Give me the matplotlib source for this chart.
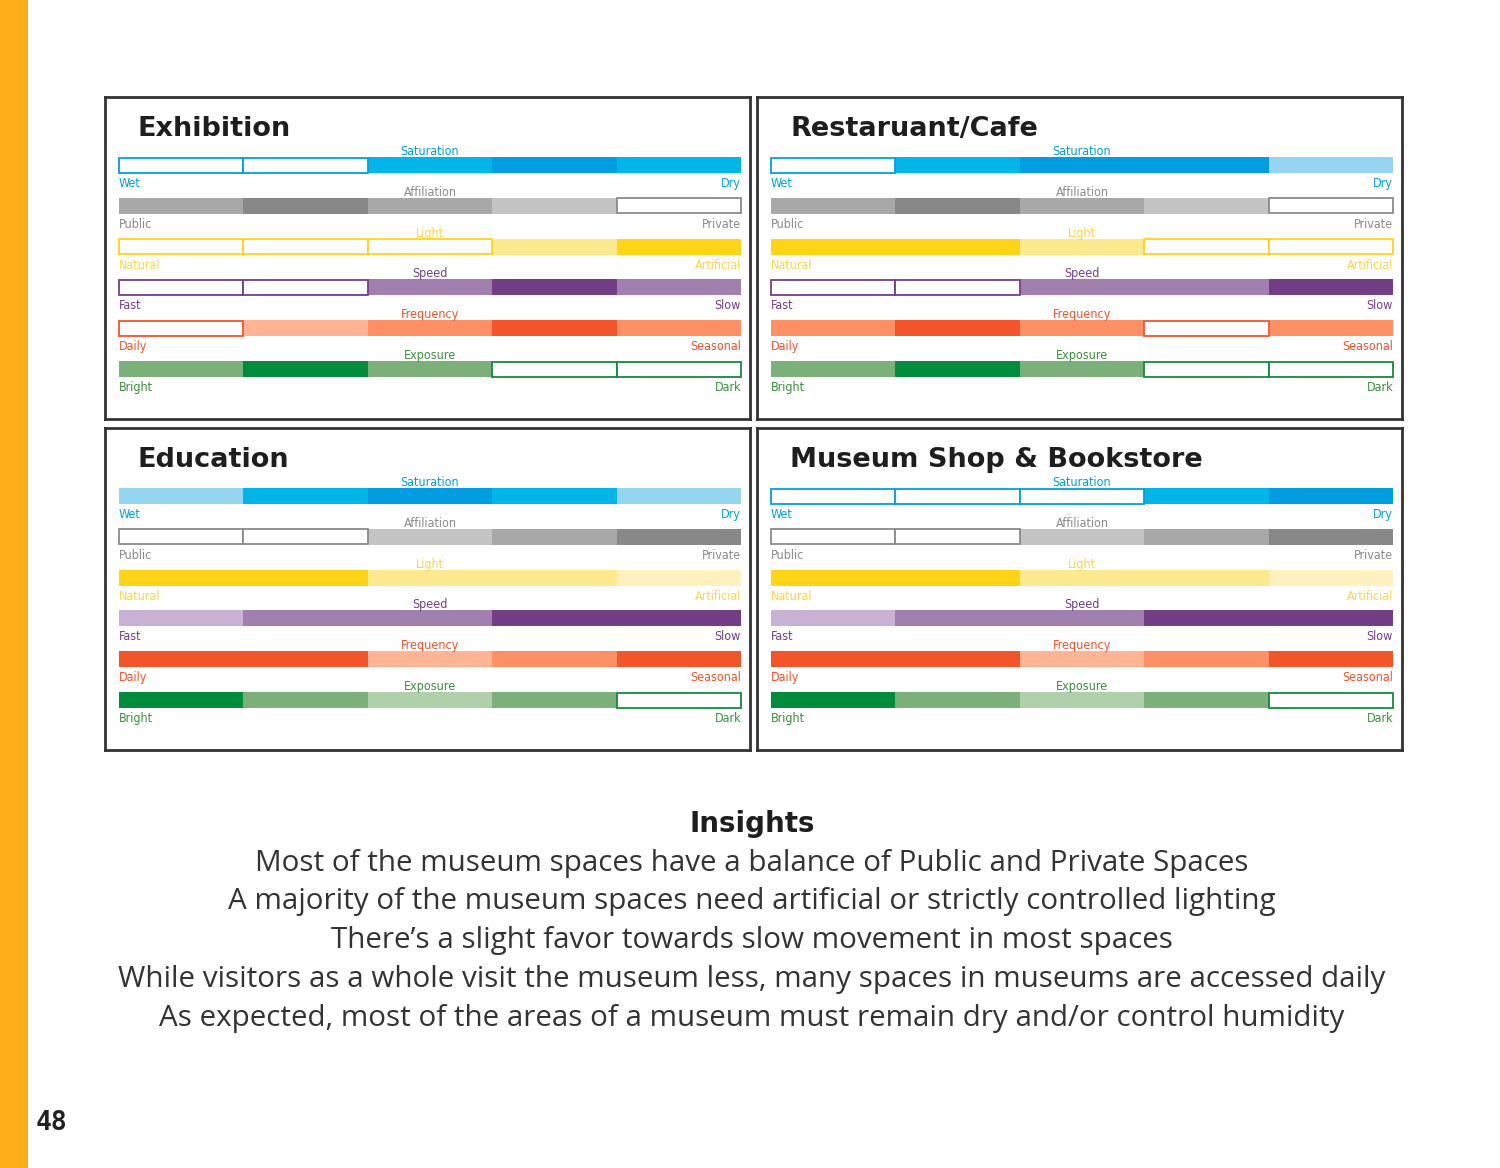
import matplotlib.pyplot as plt
from matplotlib.patches import Rectangle

W, H = 1500, 1168

panel_titles = ["Exhibition", "Restaruant/Cafe", "Education", "Museum Shop & Bookstore"]
row_names = ["Saturation", "Affiliation", "Light", "Speed", "Frequency", "Exposure"]
left_labels = ["Wet", "Public", "Natural", "Fast", "Daily", "Bright"]
right_labels = ["Dry", "Private", "Artificial", "Slow", "Seasonal", "Dark"]

# level per segment: 0 = empty box, 1 = light, 2 = medium, 3 = dark
exhibition = [[0, 0, 2, 3, 2],
              [2, 3, 2, 1, 0],
              [0, 0, 0, 2, 3],
              [0, 0, 2, 3, 2],
              [0, 1, 2, 3, 2],
              [2, 3, 2, 0, 0]]
restaurant = [[0, 2, 3, 3, 1],
              [2, 3, 2, 1, 0],
              [3, 3, 2, 0, 0],
              [0, 0, 2, 2, 3],
              [2, 3, 2, 0, 2],
              [2, 3, 2, 0, 0]]
education = [[1, 2, 3, 2, 1],
             [0, 0, 1, 2, 3],
             [3, 3, 2, 2, 1],
             [1, 2, 2, 3, 3],
             [3, 3, 1, 2, 3],
             [3, 2, 1, 2, 0]]
shop = [[0, 0, 0, 2, 3],
        [0, 0, 1, 2, 3],
        [3, 3, 2, 2, 1],
        [1, 2, 2, 3, 3],
        [3, 3, 1, 2, 3],
        [3, 2, 1, 2, 0]]
panel_levels = [exhibition, restaurant, education, shop]

# colours per row: [outline, light, medium, dark]
palette = [["#00a0dc", "#95d5f2", "#00b5e8", "#009de0"],
           ["#8a8a8a", "#c4c4c4", "#a8a8a8", "#888888"],
           ["#ffd416", "#fff1bd", "#ffe98f", "#ffd416"],
           ["#743e87", "#c8b1d3", "#a17fae", "#743e87"],
           ["#f2552a", "#ffb496", "#ff9066", "#f2552a"],
           ["#158a3c", "#b0cfab", "#7bb07a", "#008c3c"]]
text_colors = ["#00a0dc", "#8a8a8a", "#f9d54a", "#743e87", "#f2552a", "#3a8f3a"]

insights_title = "Insights"
insights = ["Most of the museum spaces have a balance of Public and Private Spaces",
            "A majority of the museum spaces need artificial or strictly controlled lighting",
            "There\u2019s a slight favor towards slow movement in most spaces",
            "While visitors as a whole visit the museum less, many spaces in museums are accessed daily",
            "As expected, most of the areas of a museum must remain dry and/or control humidity"]

# panel boxes in pixels (left, top)
boxes = [(105, 97), (757, 97), (105, 428), (757, 428)]
PW, PH = 645, 322
SEG = 124.4

fig = plt.figure(figsize=(W / 100, H / 100), dpi=100)
fig.patches.append(Rectangle((0, 0), 28 / W, 1, transform=fig.transFigure,
                             facecolor="#ffae17", edgecolor="none"))

for (px, py), title, levels in zip(boxes, panel_titles, panel_levels):
    ax = fig.add_axes([px / W, 1 - (py + PH) / H, PW / W, PH / H])
    ax.set_xlim(-14 / SEG, 5 + 9 / SEG)
    ax.set_ylim(PH, 0)
    ax.set_xticks([])
    ax.set_yticks([])
    for s in ax.spines.values():
        s.set_linewidth(2)
        s.set_color("#333333")

    ax.text(19 / SEG, 32, title, fontsize=19.5, fontweight="heavy",
            color="#1e1e1e", va="center", ha="left")

    for i, row in enumerate(levels):
        top = 60 + 40.8 * i
        bh = 16
        cols = palette[i]
        for j, lv in enumerate(row):
            if lv == 0:
                ax.barh(top + bh / 2, 1, left=j, height=bh - 1, color="white",
                        edgecolor=cols[0], linewidth=1.3, zorder=3)
            else:
                ax.barh(top + bh / 2, 1, left=j, height=bh, color=cols[lv],
                        edgecolor="none", zorder=2)
        tc = text_colors[i]
        kw = dict(fontsize=9, color=tc, fontstretch="condensed")
        ax.text(2.5, top + 1, row_names[i], ha="center", va="bottom", **kw)
        ax.text(0, top + bh + 4, left_labels[i], ha="left", va="top", **kw)
        ax.text(5, top + bh + 4, right_labels[i], ha="right", va="top", **kw)

fig.text(752 / W, 1 - 824 / H, insights_title, ha="center", va="center",
         fontsize=20, fontweight="heavy", color="#1e1e1e")
for k, line in enumerate(insights):
    fig.text(752 / W, 1 - (863 + 38.8 * k) / H, line, ha="center", va="center",
             fontsize=21.3, color="#333333", family=["Open Sans", "DejaVu Sans"])

fig.text(36 / W, 1 - 1123 / H, "48", ha="left", va="center", fontsize=19,
         fontweight="bold", color="#222222", family="DejaVu Sans Mono")

fig.savefig("out.png", dpi=100, facecolor="white")
